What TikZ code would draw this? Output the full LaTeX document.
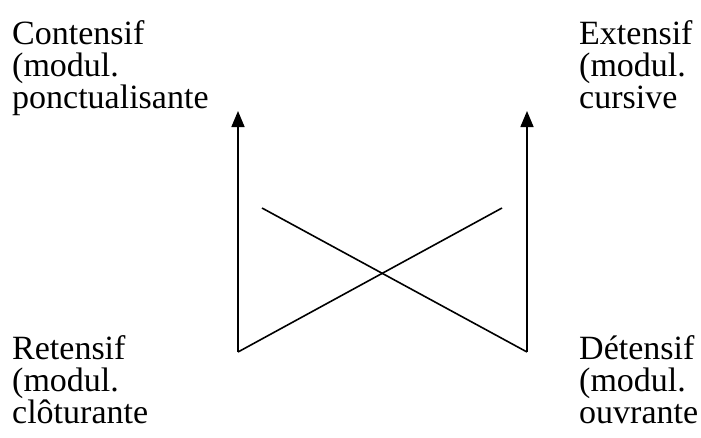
\documentclass[tikz,border=0pt]{standalone}
\usepackage{fontspec}
\setmainfont{Liberation Serif}
\usetikzlibrary{arrows.meta}
\begin{document}
\begin{tikzpicture}[x=1pt,y=-1pt,
  lbl/.style={anchor=base west,inner sep=0pt,font=\fontsize{34}{34}\selectfont},
  ln/.style={line width=1.6pt},
  arr/.style={ln,-{Triangle[length=16pt,width=13pt]}}]
\useasboundingbox (0,0) rectangle (701,437);
\coordinate (bl) at (238,352);
\coordinate (tl) at (238,111);
\coordinate (br) at (527,352);
\coordinate (tr) at (527,111);
\coordinate (xa) at (262,208);
\coordinate (xb) at (502,208);
\draw[arr] (bl) -- (tl);
\draw[arr] (br) -- (tr);
\draw[ln] (bl) -- (xb);
\draw[ln] (xa) -- (br);
\node[lbl] (c1) at (12,44) {Contensif};
\node[lbl] (c2) at (12,76) {(modul.};
\node[lbl] (c3) at (12,108) {ponctualisante};
\node[lbl] (e1) at (579,44) {Extensif};
\node[lbl] (e2) at (579,76) {(modul.};
\node[lbl] (e3) at (579,108) {cursive};
\node[lbl] (r1) at (12,359) {Retensif};
\node[lbl] (r2) at (12,391) {(modul.};
\node[lbl] (r3) at (12,423) {clôturante};
\node[lbl] (d1) at (579,359) {Détensif};
\node[lbl] (d2) at (579,391) {(modul.};
\node[lbl] (d3) at (579,423) {ouvrante};
\end{tikzpicture}
\end{document}
